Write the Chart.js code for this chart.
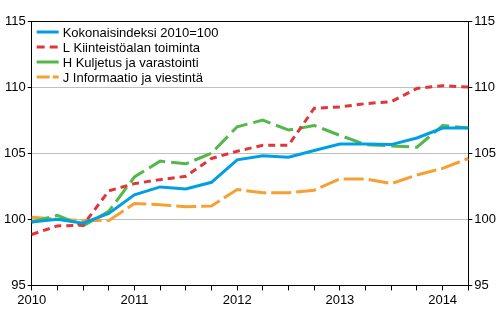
<!DOCTYPE html>
<html>
<head>
<meta charset="utf-8">
<script src="https://cdn.jsdelivr.net/npm/chart.js@4/dist/chart.umd.min.js"></script>
<style>
  body { margin: 0; background: #fff; }
  #wrap { width: 500px; height: 330px; }
</style>
</head>
<body>
<div id="wrap"><canvas id="chart"></canvas></div>
<script>
// quarters 2010Q1 - 2014Q2
let quarters = ["2010Q1","2010Q2","2010Q3","2010Q4","2011Q1","2011Q2","2011Q3","2011Q4",
                "2012Q1","2012Q2","2012Q3","2012Q4","2013Q1","2013Q2","2013Q3","2013Q4",
                "2014Q1","2014Q2"];

let total = [99.8,100.0,99.7,100.45,101.85,102.45,102.3,102.8,104.5,104.8,104.7,105.2,105.7,105.7,105.65,106.15,106.9,106.9];
let realEstate = [98.85,99.5,99.55,102.15,102.7,103.0,103.25,104.6,105.15,105.6,105.6,108.4,108.5,108.75,108.9,109.9,110.1,110.0];
let transport = [99.8,100.3,99.5,100.6,103.2,104.4,104.2,105.0,107.0,107.5,106.75,107.1,106.35,105.65,105.55,105.45,107.1,106.9];
let information = [100.15,100.0,99.9,99.9,101.2,101.1,100.95,101.0,102.25,102.0,102.0,102.2,103.05,103.05,102.7,103.35,103.85,104.6];

let seriesNames = ["Kokonaisindeksi 2010=100", "L Kiinteistöalan toiminta", "H Kuljetus ja varastointi", "J Informaatio ja viestintä"];
let yTicks = [95, 100, 105, 110, 115];

let colors = ["#009fe3", "#e0363a", "#52b848", "#f5a033"];
let dashes = [[], [7, 5], [18, 6], [20, 5]];
let legendDashes = [[], [8, 5], [], [13, 3]];

let fontFamily = "Liberation Sans, Arial, sans-serif";

function makeSet(i, data){
    return {
        label: seriesNames[i],
        data: data,
        borderColor: colors[i],
        backgroundColor: colors[i],
        borderWidth: 3,
        borderDash: dashes[i],
        pointRadius: 0,
        tension: 0,
        borderCapStyle: "butt"
    };
}

// legend drawn inside the plot, top left
let insideLegend = {
    id: "insideLegend",
    afterDatasetsDraw: function(chart){
        let c = chart.ctx;
        let area = chart.chartArea;
        c.save();
        c.font = "13px " + fontFamily;
        c.textBaseline = "middle";
        c.fillStyle = "#000";
        chart.data.datasets.forEach(function(ds, i){
            let y = area.top + 11 + i * 15;
            c.strokeStyle = ds.borderColor;
            c.lineWidth = 3;
            c.setLineDash(legendDashes[i]);
            c.beginPath();
            c.moveTo(area.left + 5, y);
            c.lineTo(area.left + 27, y);
            c.stroke();
            c.fillText(ds.label, area.left + 31, y + 1);
        });
        c.restore();
    }
};

let ctx = document.getElementById("chart").getContext("2d");

new Chart(ctx, {
    type: "line",
    data: {
        labels: quarters,
        datasets: [
            makeSet(0, total),
            makeSet(1, realEstate),
            makeSet(2, transport),
            makeSet(3, information)
        ]
    },
    plugins: [insideLegend],
    options: {
        responsive: true,
        maintainAspectRatio: false,
        animation: false,
        layout: { padding: { top: 21, right: 2, bottom: 20, left: 2 } },
        plugins: {
            tooltip: { enabled: false },
            legend: { display: false }
        },
        scales: {
            x: {
                offset: false,
                border: { color: "#000", width: 1 },
                grid: { drawOnChartArea: false, tickLength: 5, tickColor: "#000" },
                ticks: {
                    autoSkip: false,
                    maxRotation: 0,
                    color: "#000",
                    padding: 2,
                    font: { family: fontFamily, size: 13 },
                    callback: function(v, i){
                        let q = quarters[i];
                        return q.endsWith("Q1") ? q.slice(0, 4) : "";
                    }
                }
            },
            y: {
                position: "left",
                min: yTicks[0],
                max: yTicks[yTicks.length - 1],
                afterBuildTicks: function(axis){ axis.ticks = yTicks.map(function(v){ return {value: v}; }); },
                border: { color: "#000", width: 1 },
                grid: {
                    color: function(c){ return c.tick && c.tick.value === 115 ? "#000" : "#c0c0c0"; },
                    tickColor: "#000",
                    tickLength: 4
                },
                ticks: { color: "#000", padding: 2, font: { family: fontFamily, size: 13 } }
            },
            y2: {
                position: "right",
                min: yTicks[0],
                max: yTicks[yTicks.length - 1],
                afterBuildTicks: function(axis){ axis.ticks = yTicks.map(function(v){ return {value: v}; }); },
                border: { color: "#000", width: 1 },
                grid: { drawOnChartArea: false, tickColor: "#000", tickLength: 4 },
                ticks: { color: "#000", padding: 2, font: { family: fontFamily, size: 13 } }
            }
        }
    }
});
</script>
</body>
</html>
